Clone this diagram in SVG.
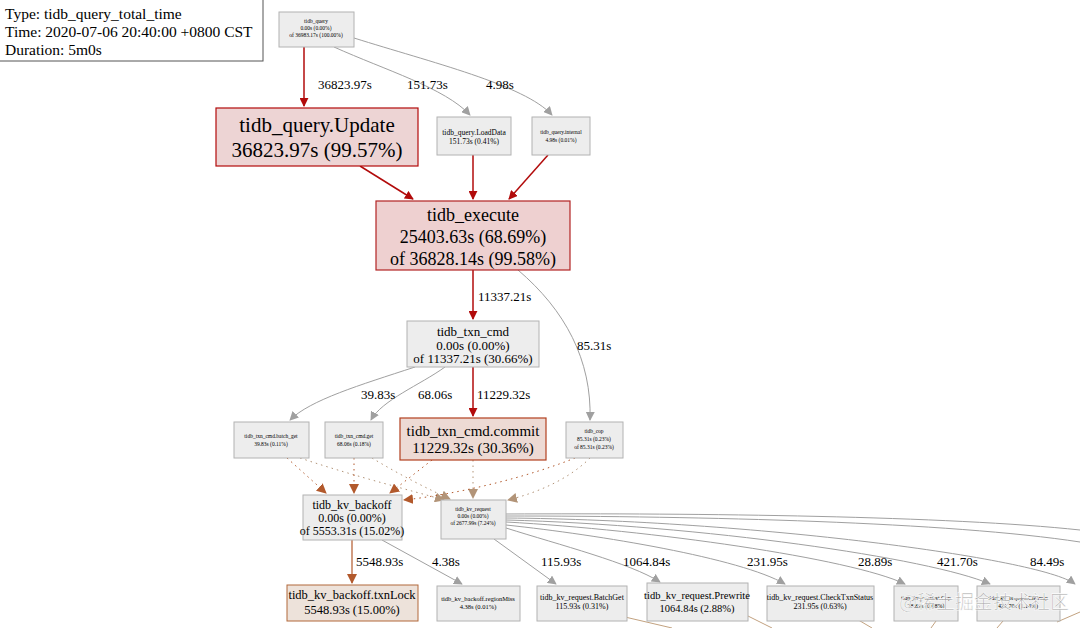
<svg xmlns="http://www.w3.org/2000/svg" width="1080" height="628" viewBox="0 0 1080 628">
<style>
text{font-family:"Liberation Serif","Times New Roman",serif;fill:#000;text-anchor:middle}
.lg{text-anchor:start;font-size:15.5px}
.n{fill:#ededed;stroke:#b2b2b2;stroke-width:1}
.red{fill:#edd4d4;stroke:#b20b0b;stroke-width:1.2}
.red2{fill:#eed0d0;stroke:#b22424;stroke-width:1.2}
.cm{fill:#eddad4;stroke:#b2401f;stroke-width:1.2}
.tl{fill:#ede2da;stroke:#b2683a;stroke-width:1}
.eg{fill:none;stroke:#a0a0a0;stroke-width:1}
.er{fill:none;stroke:#b20b0b;stroke-width:1.5}
.eb{fill:none;stroke:#b2592c;stroke-width:1.2}
.dr{fill:none;stroke:#b2592c;stroke-width:1;stroke-dasharray:1.5 4}
.dt{fill:none;stroke:#b29478;stroke-width:1;stroke-dasharray:1.5 4}
.et{fill:none;stroke:#b28a60;stroke-width:0.8}
.el{font-size:13px;text-anchor:start}
</style>
<defs>
<marker id="ag" viewBox="0 0 10 10" refX="9" refY="5" markerWidth="9" markerHeight="9" markerUnits="userSpaceOnUse" orient="auto"><path d="M0,0 L10,5 L0,10 z" fill="#a0a0a0"/></marker>
<marker id="ar" viewBox="0 0 10 10" refX="9" refY="5" markerWidth="9" markerHeight="9" markerUnits="userSpaceOnUse" orient="auto"><path d="M0,0 L10,5 L0,10 z" fill="#b20b0b"/></marker>
<marker id="ab" viewBox="0 0 10 10" refX="9" refY="5" markerWidth="10" markerHeight="10" markerUnits="userSpaceOnUse" orient="auto"><path d="M0,0 L10,5 L0,10 z" fill="#b2592c"/></marker>
<marker id="at" viewBox="0 0 10 10" refX="9" refY="5" markerWidth="10" markerHeight="10" markerUnits="userSpaceOnUse" orient="auto"><path d="M0,0 L10,5 L0,10 z" fill="#b29478"/></marker>
</defs>
<rect width="1080" height="628" fill="#fff"/>
<g id="legend">
<rect x="-1" y="-1" width="264" height="62" fill="#fff" stroke="#555" stroke-width="1"/>
<text class="lg" x="5" y="19">Type: tidb_query_total_time</text>
<text class="lg" x="5" y="37">Time: 2020-07-06 20:40:00 +0800 CST</text>
<text class="lg" x="5" y="55">Duration: 5m0s</text>
</g>
<g id="connectors">
<path class="er" d="M304,47 L304,106" marker-end="url(#ar)"/>
<path class="eg" d="M334,47 C385,70 445,88 470,115" marker-end="url(#ag)"/>
<path class="eg" d="M354,38 C430,62 525,85 552,115" marker-end="url(#ag)"/>
<path class="er" d="M360,166 L413,199" marker-end="url(#ar)"/>
<path class="er" d="M473,155 L473,199" marker-end="url(#ar)"/>
<path class="er" d="M548,155 L509,199" marker-end="url(#ar)"/>
<path class="er" d="M473,270 L473,319" marker-end="url(#ar)"/>
<path class="eg" d="M518,270 C565,310 592,360 590,420" marker-end="url(#ag)"/>
<path class="eg" d="M415,367 C360,385 310,400 290,420" marker-end="url(#ag)"/>
<path class="eg" d="M445,367 C420,385 382,400 371,420" marker-end="url(#ag)"/>
<path class="er" d="M473,367 L473,416" marker-end="url(#ar)"/>
<path class="dr" d="M287,458 L326,493" marker-end="url(#ab)"/>
<path class="dt" d="M300,458 C360,478 410,490 444,500" marker-end="url(#at)"/>
<path class="dr" d="M354,458 L354,493" marker-end="url(#ab)"/>
<path class="dt" d="M372,458 C400,475 430,490 450,499" marker-end="url(#at)"/>
<path class="dr" d="M432,460 L390,493" marker-end="url(#ab)"/>
<path class="dt" d="M473,460 L473,498" marker-end="url(#at)"/>
<path class="dr" d="M575,458 C520,480 450,495 404,500" marker-end="url(#ab)"/>
<path class="dt" d="M590,458 C570,478 540,492 508,500" marker-end="url(#at)"/>
<path class="eb" d="M352,540 L352,583" marker-end="url(#ab)"/>
<path class="eg" d="M382,540 L462,584" marker-end="url(#ag)"/>
<path class="eg" d="M494,539 L556,584" marker-end="url(#ag)"/>
<path class="eg" d="M506,528 C560,545 630,563 660,582" stroke="#a8998a" marker-end="url(#ag)"/>
<path class="eg" d="M506,525 C600,535 740,558 785,584" marker-end="url(#ag)"/>
<path class="eg" d="M506,522 C650,530 850,558 905,584" marker-end="url(#ag)"/>
<path class="eg" d="M506,520 C700,525 930,558 990,584" marker-end="url(#ag)"/>
<path class="eg" d="M506,518 C750,520 1040,558 1075,584" marker-end="url(#ag)"/>
<path class="eg" d="M506,516 C700,516 950,522 1080,542"/>
<path class="eg" d="M506,514 C700,513 950,516 1080,530"/>
<path class="et" d="M625,617 L672,628"/>
<path class="et" d="M748,616 L772,628"/>
<path class="et" d="M855,618 L872,628"/>
<path class="et" d="M936,621 L931,628"/>
<path class="et" d="M1003,621 L997,628"/>
<path class="et" d="M1057,622 L1080,612"/>
<text class="el" x="318" y="89">36823.97s</text>
<text class="el" x="407" y="89">151.73s</text>
<text class="el" x="486" y="89">4.98s</text>
<text class="el" x="478" y="301">11337.21s</text>
<text class="el" x="577" y="350">85.31s</text>
<text class="el" x="361" y="399">39.83s</text>
<text class="el" x="418" y="399">68.06s</text>
<text class="el" x="477" y="399">11229.32s</text>
<text class="el" x="356" y="566">5548.93s</text>
<text class="el" x="432" y="566">4.38s</text>
<text class="el" x="541" y="566">115.93s</text>
<text class="el" x="623" y="566">1064.84s</text>
<text class="el" x="747" y="566">231.95s</text>
<text class="el" x="858" y="566">28.89s</text>
<text class="el" x="937" y="566">421.70s</text>
<text class="el" x="1030" y="566">84.49s</text>
</g>
<g id="tidb_query">
<rect class="n" x="279" y="12" width="75" height="35"/>
<text x="316" y="23" font-size="5.5">tidb_query</text>
<text x="316" y="30" font-size="5.5">0.00s (0.00%)</text>
<text x="316" y="37" font-size="5.5">of 36983.17s (100.00%)</text>
</g>
<g id="update">
<rect class="red" x="216" y="108" width="202" height="58"/>
<text x="317" y="132" font-size="21">tidb_query.Update</text>
<text x="317" y="157" font-size="21">36823.97s (99.57%)</text>
</g>
<g id="loaddata">
<rect class="n" x="437" y="117" width="74" height="38"/>
<text x="474" y="135" font-size="7.5">tidb_query.LoadData</text>
<text x="474" y="144" font-size="7.5">151.73s (0.41%)</text>
</g>
<g id="internal">
<rect class="n" x="532" y="117" width="58" height="38"/>
<text x="561" y="134" font-size="5.5">tidb_query.internal</text>
<text x="561" y="142" font-size="5.5">4.98s (0.01%)</text>
</g>
<g id="execute">
<rect class="red2" x="376" y="201" width="194" height="69"/>
<text x="473" y="221" font-size="18">tidb_execute</text>
<text x="473" y="243" font-size="18">25403.63s (68.69%)</text>
<text x="473" y="265" font-size="18">of 36828.14s (99.58%)</text>
</g>
<g id="txn_cmd">
<rect class="n" x="407" y="321" width="132" height="46"/>
<text x="473" y="336" font-size="13">tidb_txn_cmd</text>
<text x="473" y="350" font-size="13">0.00s (0.00%)</text>
<text x="473" y="363" font-size="13">of 11337.21s (30.66%)</text>
</g>
<g id="batch_get">
<rect class="n" x="234" y="422" width="75" height="36"/>
<text x="271" y="438" font-size="5.5">tidb_txn_cmd.batch_get</text>
<text x="271" y="446" font-size="5.5">39.83s (0.11%)</text>
</g>
<g id="get">
<rect class="n" x="325" y="422" width="58" height="36"/>
<text x="354" y="438" font-size="5.5">tidb_txn_cmd.get</text>
<text x="354" y="446" font-size="5.5">68.06s (0.18%)</text>
</g>
<g id="commit">
<rect class="cm" x="400" y="418" width="146" height="42"/>
<text x="473" y="436" font-size="15">tidb_txn_cmd.commit</text>
<text x="473" y="453" font-size="15">11229.32s (30.36%)</text>
</g>
<g id="tidb_cop">
<rect class="n" x="566" y="422" width="57" height="36"/>
<text x="594" y="433" font-size="5.5">tidb_cop</text>
<text x="594" y="441" font-size="5.5">85.31s (0.23%)</text>
<text x="594" y="449" font-size="5.5">of 85.31s (0.23%)</text>
</g>
<g id="kv_backoff">
<rect class="n" x="303" y="495" width="99" height="45"/>
<text x="352" y="509" font-size="12">tidb_kv_backoff</text>
<text x="352" y="522" font-size="12">0.00s (0.00%)</text>
<text x="352" y="535" font-size="12">of 5553.31s (15.02%)</text>
</g>
<g id="kv_request">
<rect class="n" x="441" y="500" width="65" height="39"/>
<text x="473" y="511" font-size="5.5">tidb_kv_request</text>
<text x="473" y="518" font-size="5.5">0.00s (0.00%)</text>
<text x="473" y="525" font-size="5.5">of 2677.99s (7.24%)</text>
</g>
<g id="txnlock">
<rect class="tl" x="287" y="585" width="131" height="36"/>
<text x="352" y="599" font-size="12.5">tidb_kv_backoff.txnLock</text>
<text x="352" y="614" font-size="12.5">5548.93s (15.00%)</text>
</g>
<g id="regionmiss">
<rect class="n" x="437" y="586" width="83" height="35"/>
<text x="478" y="601" font-size="6.5">tidb_kv_backoff.regionMiss</text>
<text x="478" y="609" font-size="6.5">4.38s (0.01%)</text>
</g>
<g id="batchget">
<rect class="n" x="537" y="586" width="90" height="35"/>
<text x="582" y="600" font-size="8">tidb_kv_request.BatchGet</text>
<text x="582" y="609" font-size="8">115.93s (0.31%)</text>
</g>
<g id="prewrite">
<rect class="n" x="647" y="583" width="101" height="38"/>
<text x="697" y="599" font-size="10.5">tidb_kv_request.Prewrite</text>
<text x="697" y="612" font-size="10.5">1064.84s (2.88%)</text>
</g>
<g id="checktxnstatus">
<rect class="n" x="767" y="586" width="107" height="35"/>
<text x="820" y="600" font-size="8">tidb_kv_request.CheckTxnStatus</text>
<text x="820" y="609" font-size="8">231.95s (0.63%)</text>
</g>
<g id="cop">
<rect class="n" x="894" y="586" width="64" height="35"/>
<text x="926" y="600" font-size="6">tidb_kv_request.Cop</text>
<text x="926" y="608" font-size="6">28.89s (0.08%)</text>
</g>
<g id="cleanup">
<rect class="n" x="977" y="586" width="83" height="35"/>
<text x="1018" y="600" font-size="6">tidb_kv_request.Cleanup</text>
<text x="1018" y="608" font-size="6">421.70s (1.14%)</text>
</g>
<g id="watermark">
<text x="984" y="609" font-size="19" fill-opacity="0.75" stroke="#fff" stroke-width="0.6" style="font-family:'Noto Sans CJK SC','Liberation Sans',sans-serif;fill:#9a9a9a">@稀土掘金技术社区</text>
</g>
</svg>
